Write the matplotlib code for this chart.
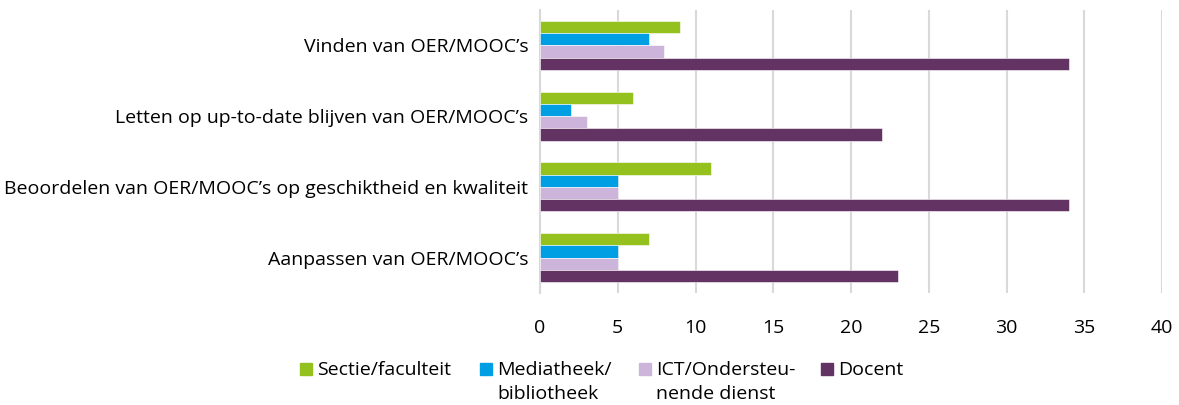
import matplotlib.pyplot as plt
from matplotlib.patches import Rectangle
import numpy as np

plt.rcParams['font.family'] = ['Open Sans', 'DejaVu Sans']

categories = ["Vinden van OER/MOOC’s",
              "Letten op up-to-date blijven van OER/MOOC’s",
              "Beoordelen van OER/MOOC’s op geschiktheid en kwaliteit",
              "Aanpassen van OER/MOOC’s"]
series = ["Sectie/faculteit", "Mediatheek/\nbibliotheek", "ICT/Ondersteu-\nnende dienst", "Docent"]
sectie = [9, 6, 11, 7]
mediatheek = [7, 2, 5, 5]
ict = [8, 3, 5, 5]
docent = [34, 22, 34, 23]
colors = ['#95c11f', '#009fe3', '#cdb4db', '#633363']

values = [sectie, mediatheek, ict, docent]

W, H = 1179, 405
fig = plt.figure(figsize=(W / 100, H / 100), dpi=100)
ax = fig.add_axes([540 / W, 1 - 293 / H, 622 / W, 283 / H])

y = np.arange(len(categories))
h = 0.173
for i, (vals, name, c) in enumerate(zip(values, series, colors)):
    ax.barh(y - 1.5 * h + i * h, vals, height=h, color=c, label=name,
            edgecolor='white', linewidth=0.4, zorder=3)

ax.set_xlim(0, 40)
ax.set_ylim(len(categories) - 0.5, -0.5)
ax.set_xticks(range(0, 41, 5))
ax.set_yticks(y)
ax.set_yticklabels(categories)
ax.grid(axis='x', color='#d9d9d9', linewidth=1.5, zorder=0)
for s in ['top', 'right', 'bottom']:
    ax.spines[s].set_visible(False)
ax.spines['left'].set_color('#d9d9d9')
ax.spines['left'].set_linewidth(1.5)
ax.tick_params(length=0, labelsize=14, colors='black')
ax.tick_params(axis='x', pad=19)
ax.tick_params(axis='y', pad=8.5)

# legend below the plot, squares aligned with the first text line
leg_x = [300, 480, 639, 821]
for x0, name, c in zip(leg_x, series, colors):
    fig.patches.append(Rectangle((x0 / W, 1 - 375 / H), 12 / W, 12 / H,
                                 transform=fig.transFigure, color=c))
    for k, line in enumerate(name.split('\n')):
        fig.text((x0 + 17) / W, 1 - (375 + 24 * k) / H, line,
                 fontsize=14, va='baseline', ha='left')

fig.savefig('out.png', dpi=100)
